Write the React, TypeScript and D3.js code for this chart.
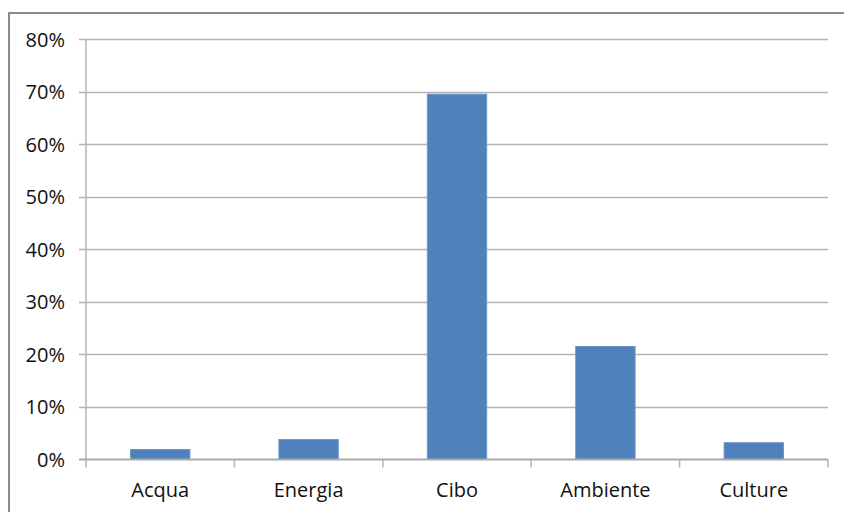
import { useEffect, useRef } from 'react';
import * as d3 from 'd3';

const categories = ['Acqua', 'Energia', 'Cibo', 'Ambiente', 'Culture'];
const values = [0.019, 0.038, 0.695, 0.215, 0.032];
const yTicks = [0, 0.1, 0.2, 0.3, 0.4, 0.5, 0.6, 0.7, 0.8];

export default function App() {
  const svgRef = useRef<SVGSVGElement | null>(null);

  useEffect(() => {
    if (!svgRef.current) return;
    const W = 844;
    const H = 512;
    const svg = d3.select(svgRef.current);
    svg.selectAll('*').remove();

    const left = 86;
    const right = 828;
    const top = 39;
    const bottom = 459.5;
    const font = "'Open Sans', 'Liberation Sans', sans-serif";

    // cornice esterna
    svg.append('rect')
      .attr('x', 9).attr('y', 13)
      .attr('width', W + 20).attr('height', H + 20)
      .attr('fill', 'white')
      .attr('stroke', '#8c8c8c')
      .attr('stroke-width', 2);

    const x = d3.scaleBand().domain(categories).range([left, right]);
    const y = d3.scaleLinear().domain([0, 0.8]).range([bottom, top]);

    // griglia + etichette asse Y
    svg.append('g')
      .selectAll('line')
      .data(yTicks.filter((t) => t > 0))
      .join('line')
      .attr('x1', left - 7)
      .attr('x2', right)
      .attr('y1', (d) => Math.round(y(d)) + 0.5)
      .attr('y2', (d) => Math.round(y(d)) + 0.5)
      .attr('stroke', '#b3b3b3')
      .attr('stroke-width', 1.5);

    svg.append('g')
      .selectAll('text')
      .data(yTicks)
      .join('text')
      .attr('x', 65)
      .attr('y', (d) => y(d) + 7.5)
      .attr('text-anchor', 'end')
      .attr('font-family', font)
      .attr('font-size', 20)
      .attr('fill', '#111')
      .text((d) => d3.format('.0%')(d));

    // asse Y
    svg.append('line')
      .attr('x1', left).attr('x2', left)
      .attr('y1', top).attr('y2', bottom + 8)
      .attr('stroke', '#b3b3b3').attr('stroke-width', 1.5);

    // barre
    const bw = x.bandwidth() * 0.4;
    svg.append('g')
      .selectAll('rect')
      .data(values)
      .join('rect')
      .attr('x', (_, i) => (x(categories[i]) ?? 0) + x.bandwidth() / 2 - bw / 2)
      .attr('y', (d) => y(d))
      .attr('width', bw)
      .attr('height', (d) => bottom - y(d))
      .attr('fill', '#4f81bd')
      .attr('stroke', '#6d96c8')
      .attr('stroke-width', 1);

    // asse X
    svg.append('line')
      .attr('x1', left - 7).attr('x2', right)
      .attr('y1', bottom).attr('y2', bottom)
      .attr('stroke', '#aaaaaa').attr('stroke-width', 2);

    svg.append('g')
      .selectAll('line')
      .data(categories)
      .join('line')
      .attr('x1', (d) => (x(d) ?? 0) + x.bandwidth())
      .attr('x2', (d) => (x(d) ?? 0) + x.bandwidth())
      .attr('y1', bottom)
      .attr('y2', bottom + 8)
      .attr('stroke', '#b3b3b3')
      .attr('stroke-width', 1.5);

    svg.append('g')
      .selectAll('text')
      .data(categories)
      .join('text')
      .attr('x', (d) => (x(d) ?? 0) + x.bandwidth() / 2)
      .attr('y', 497)
      .attr('text-anchor', 'middle')
      .attr('font-family', font)
      .attr('font-size', 20)
      .attr('fill', '#111')
      .text((d) => d);
  }, []);

  return (
    <svg
      ref={svgRef}
      width={844}
      height={512}
      style={{ position: 'fixed', left: 0, top: 0, background: 'white' }}
    />
  );
}
